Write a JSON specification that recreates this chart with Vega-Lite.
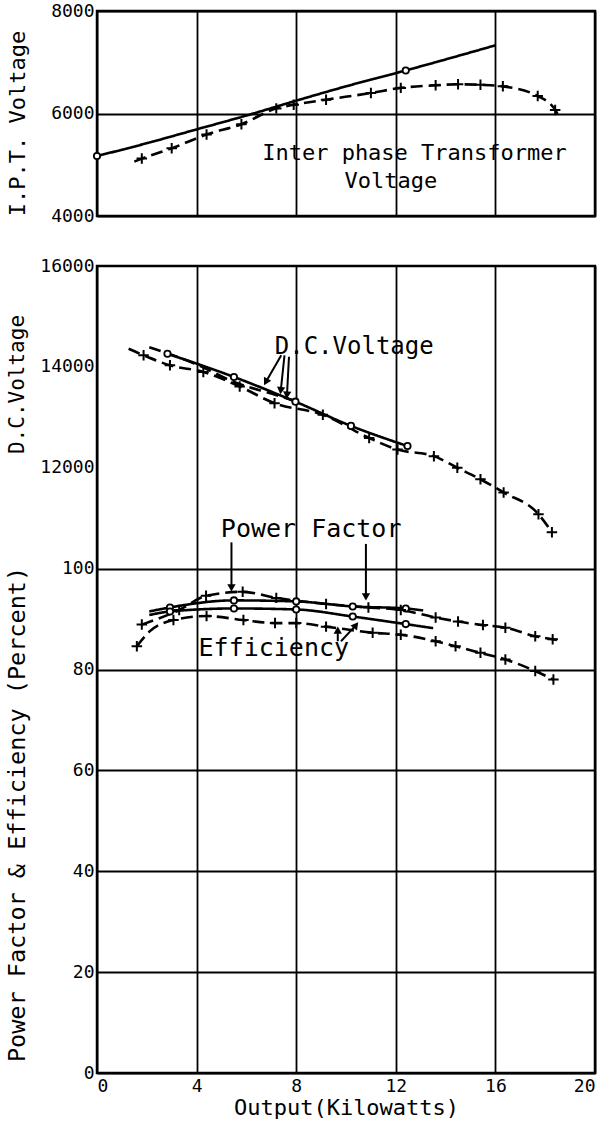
{
  "$schema": "https://vega.github.io/schema/vega-lite/v6.json",
  "background": "white",
  "padding": {"left": 3, "top": 0, "right": 0, "bottom": 0},
  "bounds": "flush",
  "spacing": 50,
  "config": {
    "font": "DejaVu Sans Mono",
    "view": {"stroke": "black", "strokeWidth": 2.5, "fill": "white"},
    "axis": {
      "labelFont": "DejaVu Sans Mono", "labelFontSize": 18, "labelColor": "black",
      "titleFont": "DejaVu Sans Mono", "titleFontSize": 22, "titleFontWeight": "normal", "titleColor": "black",
      "grid": true, "gridColor": "black", "gridWidth": 1.8, "gridOpacity": 1,
      "domain": false, "ticks": false, "labelPadding": 3
    }
  },
  "datasets": {
    "ipt": [
      {"s": "A", "run": "A", "x": 0, "v": 5170, "mk": "circle"},
      {"s": "A", "run": "A", "x": 2, "v": 5420, "mk": "none"},
      {"s": "A", "run": "A", "x": 4, "v": 5690, "mk": "none"},
      {"s": "A", "run": "A", "x": 6, "v": 5960, "mk": "none"},
      {"s": "A", "run": "A", "x": 8, "v": 6250, "mk": "none"},
      {"s": "A", "run": "A", "x": 10, "v": 6530, "mk": "none"},
      {"s": "A", "run": "A", "x": 12.4, "v": 6840, "mk": "circle"},
      {"s": "A", "run": "A", "x": 16, "v": 7330, "mk": "none"},
      {"s": "B", "run": "B", "x": 1.5, "v": 5060, "mk": "none"},
      {"s": "B", "run": "B", "x": 1.8, "v": 5120, "mk": "cross"},
      {"s": "B", "run": "B", "x": 3.0, "v": 5320, "mk": "cross"},
      {"s": "B", "run": "B", "x": 4.4, "v": 5590, "mk": "cross"},
      {"s": "B", "run": "B", "x": 5.8, "v": 5790, "mk": "cross"},
      {"s": "B", "run": "B", "x": 7.2, "v": 6100, "mk": "cross"},
      {"s": "B", "run": "B", "x": 7.9, "v": 6170, "mk": "cross"},
      {"s": "B", "run": "B", "x": 9.2, "v": 6270, "mk": "cross"},
      {"s": "B", "run": "B", "x": 11.0, "v": 6400, "mk": "cross"},
      {"s": "B", "run": "B", "x": 12.2, "v": 6500, "mk": "cross"},
      {"s": "B", "run": "B", "x": 13.6, "v": 6550, "mk": "cross"},
      {"s": "B", "run": "B", "x": 14.5, "v": 6570, "mk": "cross"},
      {"s": "B", "run": "B", "x": 15.4, "v": 6560, "mk": "cross"},
      {"s": "B", "run": "B", "x": 16.3, "v": 6530, "mk": "cross"},
      {"s": "B", "run": "B", "x": 17.7, "v": 6340, "mk": "cross"},
      {"s": "B", "run": "B", "x": 18.4, "v": 6070, "mk": "cross"},
      {"s": "B", "run": "B", "x": 18.6, "v": 5900, "mk": "none"}
    ],
    "dc": [
      {"s": "A", "run": "A", "x": 2.83, "v": 14260, "mk": "circle"},
      {"s": "A", "run": "A", "x": 5.5, "v": 13800, "mk": "circle"},
      {"s": "A", "run": "A", "x": 7.97, "v": 13310, "mk": "circle"},
      {"s": "A", "run": "A", "x": 10.2, "v": 12830, "mk": "circle"},
      {"s": "A", "run": "A", "x": 12.47, "v": 12430, "mk": "circle"},
      {"s": "B", "run": "B", "x": 1.27, "v": 14360, "mk": "none"},
      {"s": "B", "run": "B", "x": 1.87, "v": 14230, "mk": "cross"},
      {"s": "B", "run": "B", "x": 2.93, "v": 14030, "mk": "cross"},
      {"s": "B", "run": "B", "x": 4.27, "v": 13900, "mk": "cross"},
      {"s": "B", "run": "B", "x": 5.73, "v": 13610, "mk": "cross"},
      {"s": "B", "run": "B", "x": 7.13, "v": 13280, "mk": "cross"},
      {"s": "B", "run": "B", "x": 9.07, "v": 13050, "mk": "cross"},
      {"s": "B", "run": "B", "x": 10.93, "v": 12590, "mk": "cross"},
      {"s": "B", "run": "B", "x": 12.07, "v": 12360, "mk": "cross"},
      {"s": "B", "run": "B", "x": 13.53, "v": 12230, "mk": "cross"},
      {"s": "B", "run": "B", "x": 14.47, "v": 12000, "mk": "cross"},
      {"s": "B", "run": "B", "x": 15.4, "v": 11770, "mk": "cross"},
      {"s": "B", "run": "B", "x": 16.33, "v": 11510, "mk": "cross"},
      {"s": "B", "run": "B", "x": 17.73, "v": 11080, "mk": "cross"},
      {"s": "B", "run": "B", "x": 18.27, "v": 10720, "mk": "cross"},
      {"s": "C", "run": "B", "x": 2.1, "v": 14390, "mk": "none"},
      {"s": "C", "run": "B", "x": 4.0, "v": 14050, "mk": "none"},
      {"s": "C", "run": "B", "x": 5.5, "v": 13700, "mk": "none"},
      {"s": "C", "run": "B", "x": 7.0, "v": 13470, "mk": "none"},
      {"s": "C", "run": "B", "x": 8.0, "v": 13320, "mk": "none"}
    ],
    "pfe": [
      {"s": "PF-A", "run": "A", "x": 2.1, "v": 91.5, "mk": "none"},
      {"s": "PF-A", "run": "A", "x": 2.93, "v": 92.3, "mk": "circle"},
      {"s": "PF-A", "run": "A", "x": 5.5, "v": 93.7, "mk": "circle"},
      {"s": "PF-A", "run": "A", "x": 8.0, "v": 93.5, "mk": "circle"},
      {"s": "PF-A", "run": "A", "x": 10.27, "v": 92.5, "mk": "circle"},
      {"s": "PF-A", "run": "A", "x": 12.4, "v": 92.1, "mk": "circle"},
      {"s": "PF-A", "run": "A", "x": 13.1, "v": 91.7, "mk": "none"},
      {"s": "Eff-A", "run": "A", "x": 2.1, "v": 90.8, "mk": "none"},
      {"s": "Eff-A", "run": "A", "x": 2.93, "v": 91.5, "mk": "circle"},
      {"s": "Eff-A", "run": "A", "x": 5.5, "v": 92.1, "mk": "circle"},
      {"s": "Eff-A", "run": "A", "x": 8.0, "v": 91.9, "mk": "circle"},
      {"s": "Eff-A", "run": "A", "x": 10.27, "v": 90.5, "mk": "circle"},
      {"s": "Eff-A", "run": "A", "x": 12.4, "v": 89.0, "mk": "circle"},
      {"s": "Eff-A", "run": "A", "x": 13.5, "v": 88.2, "mk": "none"},
      {"s": "PF-B", "run": "B", "x": 1.8, "v": 88.9, "mk": "cross"},
      {"s": "PF-B", "run": "B", "x": 3.3, "v": 91.8, "mk": "cross"},
      {"s": "PF-B", "run": "B", "x": 4.38, "v": 94.6, "mk": "cross"},
      {"s": "PF-B", "run": "B", "x": 5.85, "v": 95.4, "mk": "cross"},
      {"s": "PF-B", "run": "B", "x": 7.2, "v": 94.2, "mk": "cross"},
      {"s": "PF-B", "run": "B", "x": 9.2, "v": 93.0, "mk": "cross"},
      {"s": "PF-B", "run": "B", "x": 10.9, "v": 92.3, "mk": "cross"},
      {"s": "PF-B", "run": "B", "x": 12.2, "v": 91.8, "mk": "cross"},
      {"s": "PF-B", "run": "B", "x": 13.6, "v": 90.3, "mk": "cross"},
      {"s": "PF-B", "run": "B", "x": 14.5, "v": 89.5, "mk": "cross"},
      {"s": "PF-B", "run": "B", "x": 15.5, "v": 88.8, "mk": "cross"},
      {"s": "PF-B", "run": "B", "x": 16.4, "v": 88.3, "mk": "cross"},
      {"s": "PF-B", "run": "B", "x": 17.6, "v": 86.6, "mk": "cross"},
      {"s": "PF-B", "run": "B", "x": 18.3, "v": 86.0, "mk": "cross"},
      {"s": "PF-B", "run": "B", "x": 18.7, "v": 85.6, "mk": "none"},
      {"s": "Eff-B", "run": "B", "x": 1.6, "v": 84.6, "mk": "cross"},
      {"s": "Eff-B", "run": "B", "x": 2.1, "v": 87.5, "mk": "none"},
      {"s": "Eff-B", "run": "B", "x": 3.07, "v": 89.8, "mk": "cross"},
      {"s": "Eff-B", "run": "B", "x": 4.4, "v": 90.6, "mk": "cross"},
      {"s": "Eff-B", "run": "B", "x": 5.88, "v": 89.8, "mk": "cross"},
      {"s": "Eff-B", "run": "B", "x": 7.15, "v": 89.2, "mk": "cross"},
      {"s": "Eff-B", "run": "B", "x": 8.0, "v": 89.2, "mk": "cross"},
      {"s": "Eff-B", "run": "B", "x": 9.2, "v": 88.5, "mk": "cross"},
      {"s": "Eff-B", "run": "B", "x": 11.07, "v": 87.3, "mk": "cross"},
      {"s": "Eff-B", "run": "B", "x": 12.2, "v": 86.9, "mk": "cross"},
      {"s": "Eff-B", "run": "B", "x": 13.6, "v": 85.6, "mk": "cross"},
      {"s": "Eff-B", "run": "B", "x": 14.4, "v": 84.6, "mk": "cross"},
      {"s": "Eff-B", "run": "B", "x": 15.4, "v": 83.3, "mk": "cross"},
      {"s": "Eff-B", "run": "B", "x": 16.4, "v": 82.0, "mk": "cross"},
      {"s": "Eff-B", "run": "B", "x": 17.6, "v": 79.7, "mk": "cross"},
      {"s": "Eff-B", "run": "B", "x": 18.33, "v": 78.0, "mk": "cross"}
    ],
    "notesTop": [
      {"t": "Inter phase Transformer", "x": 12.75, "v": 5230},
      {"t": "Voltage", "x": 11.8, "v": 4690}
    ],
    "notesDC": [
      {"t": "D.C.Voltage", "x": 10.33, "v": 14390}
    ],
    "notesPF": [
      {"t": "Power Factor", "x": 8.6, "v": 107.9},
      {"t": "Efficiency", "x": 7.1, "v": 84.2}
    ],
    "arrowsPF": [
      {"x": 5.4, "v": 105.2, "x2": 5.4, "v2": 96.2, "ang": 0},
      {"x": 10.8, "v": 104.9, "x2": 10.8, "v2": 94.4, "ang": 0},
      {"x": 9.67, "v": 85.6, "x2": 9.67, "v2": 87.8, "ang": 180},
      {"x": 9.8, "v": 85.6, "x2": 10.4, "v2": 88.8, "ang": 218}
    ],
    "arrowsDC": [
      {"x": 7.4, "v": 14230, "x2": 6.78, "v2": 13700, "ang": 29},
      {"x": 7.53, "v": 14230, "x2": 7.38, "v2": 13530, "ang": 6},
      {"x": 7.71, "v": 14200, "x2": 7.63, "v2": 13440, "ang": 4}
    ]
  },
  "vconcat": [
    {
      "width": 498,
      "height": 205,
      "layer": [
        {
          "data": {"name": "ipt"},
          "mark": {"type": "line", "color": "black", "strokeWidth": 2.6, "interpolate": "monotone"},
          "encoding": {
            "x": {"field": "x", "type": "quantitative", "scale": {"domain": [0, 20], "nice": false, "zero": false}, "axis": {"values": [0, 4, 8, 12, 16, 20], "labels": false, "title": null}},
            "y": {"field": "v", "type": "quantitative", "scale": {"domain": [4000, 8000], "nice": false, "zero": false}, "axis": {"values": [4000, 6000, 8000], "format": "d", "title": "I.P.T. Voltage", "titleX": -80, "titleBaseline": "middle", "titleY": 112}},
            "detail": {"field": "s"},
            "strokeDash": {"field": "run", "type": "nominal", "scale": {"domain": ["A", "B"], "range": [[1, 0], [12, 6]]}, "legend": null}
          }
        },
        {
          "data": {"name": "ipt"},
          "transform": [{"filter": "datum.mk === 'circle'"}],
          "mark": {"type": "point", "shape": "circle", "filled": true, "fill": "white", "stroke": "black", "strokeWidth": 1.8, "size": 40, "opacity": 1},
          "encoding": {
            "x": {"field": "x", "type": "quantitative"},
            "y": {"field": "v", "type": "quantitative"}
          }
        },
        {
          "data": {"name": "ipt"},
          "transform": [{"filter": "datum.mk === 'cross'"}],
          "mark": {"type": "point", "shape": "M-1,0H1M0,-1V1", "filled": false, "stroke": "black", "strokeWidth": 2, "size": 110, "opacity": 1},
          "encoding": {
            "x": {"field": "x", "type": "quantitative"},
            "y": {"field": "v", "type": "quantitative"}
          }
        },
        {
          "data": {"name": "notesTop"},
          "mark": {"type": "text", "font": "DejaVu Sans Mono", "fontSize": 22, "color": "black", "align": "center", "baseline": "middle"},
          "encoding": {
            "x": {"field": "x", "type": "quantitative"},
            "y": {"field": "v", "type": "quantitative"},
            "text": {"field": "t"}
          }
        }
      ]
    },
    {
      "width": 498,
      "height": 807,
      "resolve": {"scale": {"y": "independent"}},
      "layer": [
        {
          "layer": [
            {
              "data": {"name": "pfe"},
              "mark": {"type": "line", "color": "black", "strokeWidth": 2.6, "interpolate": "monotone"},
              "encoding": {
                "x": {"field": "x", "type": "quantitative", "scale": {"domain": [0, 20], "nice": false, "zero": false}, "axis": {"values": [0, 4, 8, 12, 16, 20], "title": "Output(Kilowatts)", "titlePadding": 2, "labelPadding": 4}},
                "y": {"field": "v", "type": "quantitative", "scale": {"domain": [0, 160], "nice": false, "zero": false}, "axis": {"values": [0, 20, 40, 60, 80, 100], "title": "Power Factor & Efficiency (Percent)", "titleFontSize": 23.5, "titleX": -80, "titleBaseline": "middle", "titleY": 548}},
                "detail": {"field": "s"},
                "strokeDash": {"field": "run", "type": "nominal", "scale": {"domain": ["A", "B"], "range": [[1, 0], [12, 6]]}, "legend": null}
              }
            },
            {
              "data": {"name": "pfe"},
              "transform": [{"filter": "datum.mk === 'circle'"}],
              "mark": {"type": "point", "shape": "circle", "filled": true, "fill": "white", "stroke": "black", "strokeWidth": 1.8, "size": 40, "opacity": 1},
              "encoding": {
                "x": {"field": "x", "type": "quantitative"},
                "y": {"field": "v", "type": "quantitative"}
              }
            },
            {
              "data": {"name": "pfe"},
              "transform": [{"filter": "datum.mk === 'cross'"}],
              "mark": {"type": "point", "shape": "M-1,0H1M0,-1V1", "filled": false, "stroke": "black", "strokeWidth": 2, "size": 110, "opacity": 1},
              "encoding": {
                "x": {"field": "x", "type": "quantitative"},
                "y": {"field": "v", "type": "quantitative"}
              }
            },
            {
              "data": {"name": "notesPF"},
              "mark": {"type": "text", "font": "DejaVu Sans Mono", "fontSize": 25, "color": "black", "align": "center", "baseline": "middle"},
              "encoding": {
                "x": {"field": "x", "type": "quantitative"},
                "y": {"field": "v", "type": "quantitative"},
                "text": {"field": "t"}
              }
            },
            {
              "data": {"name": "arrowsPF"},
              "mark": {"type": "rule", "color": "black", "strokeWidth": 2},
              "encoding": {
                "x": {"field": "x", "type": "quantitative"},
                "y": {"field": "v", "type": "quantitative"},
                "x2": {"field": "x2"},
                "y2": {"field": "v2"}
              }
            },
            {
              "data": {"name": "arrowsPF"},
              "mark": {"type": "point", "shape": "triangle-down", "filled": true, "color": "black", "size": 70, "opacity": 1},
              "encoding": {
                "x": {"field": "x2", "type": "quantitative"},
                "y": {"field": "v2", "type": "quantitative"},
                "angle": {"field": "ang", "type": "quantitative", "scale": null}
              }
            }
          ]
        },
        {
          "layer": [
            {
              "data": {"name": "dc"},
              "mark": {"type": "line", "color": "black", "strokeWidth": 2.6, "interpolate": "monotone"},
              "encoding": {
                "x": {"field": "x", "type": "quantitative", "scale": {"domain": [0, 20], "nice": false, "zero": false}},
                "y": {"field": "v", "type": "quantitative", "scale": {"domain": [0, 16000], "nice": false, "zero": false}, "axis": {"orient": "left", "values": [12000, 14000, 16000], "format": "d", "title": "D.C.Voltage", "titleFontSize": 21, "titleX": -80, "titleBaseline": "middle", "titleY": 118}},
                "detail": {"field": "s"},
                "strokeDash": {"field": "run", "type": "nominal", "scale": {"domain": ["A", "B"], "range": [[1, 0], [12, 6]]}, "legend": null}
              }
            },
            {
              "data": {"name": "dc"},
              "transform": [{"filter": "datum.mk === 'circle'"}],
              "mark": {"type": "point", "shape": "circle", "filled": true, "fill": "white", "stroke": "black", "strokeWidth": 1.8, "size": 40, "opacity": 1},
              "encoding": {
                "x": {"field": "x", "type": "quantitative"},
                "y": {"field": "v", "type": "quantitative"}
              }
            },
            {
              "data": {"name": "dc"},
              "transform": [{"filter": "datum.mk === 'cross'"}],
              "mark": {"type": "point", "shape": "M-1,0H1M0,-1V1", "filled": false, "stroke": "black", "strokeWidth": 2, "size": 110, "opacity": 1},
              "encoding": {
                "x": {"field": "x", "type": "quantitative"},
                "y": {"field": "v", "type": "quantitative"}
              }
            },
            {
              "data": {"name": "notesDC"},
              "mark": {"type": "text", "font": "DejaVu Sans Mono", "fontSize": 24, "color": "black", "align": "center", "baseline": "middle"},
              "encoding": {
                "x": {"field": "x", "type": "quantitative"},
                "y": {"field": "v", "type": "quantitative"},
                "text": {"field": "t"}
              }
            },
            {
              "data": {"name": "arrowsDC"},
              "mark": {"type": "rule", "color": "black", "strokeWidth": 2},
              "encoding": {
                "x": {"field": "x", "type": "quantitative"},
                "y": {"field": "v", "type": "quantitative"},
                "x2": {"field": "x2"},
                "y2": {"field": "v2"}
              }
            },
            {
              "data": {"name": "arrowsDC"},
              "mark": {"type": "point", "shape": "triangle-down", "filled": true, "color": "black", "size": 70, "opacity": 1},
              "encoding": {
                "x": {"field": "x2", "type": "quantitative"},
                "y": {"field": "v2", "type": "quantitative"},
                "angle": {"field": "ang", "type": "quantitative", "scale": null}
              }
            }
          ]
        }
      ]
    }
  ]
}
